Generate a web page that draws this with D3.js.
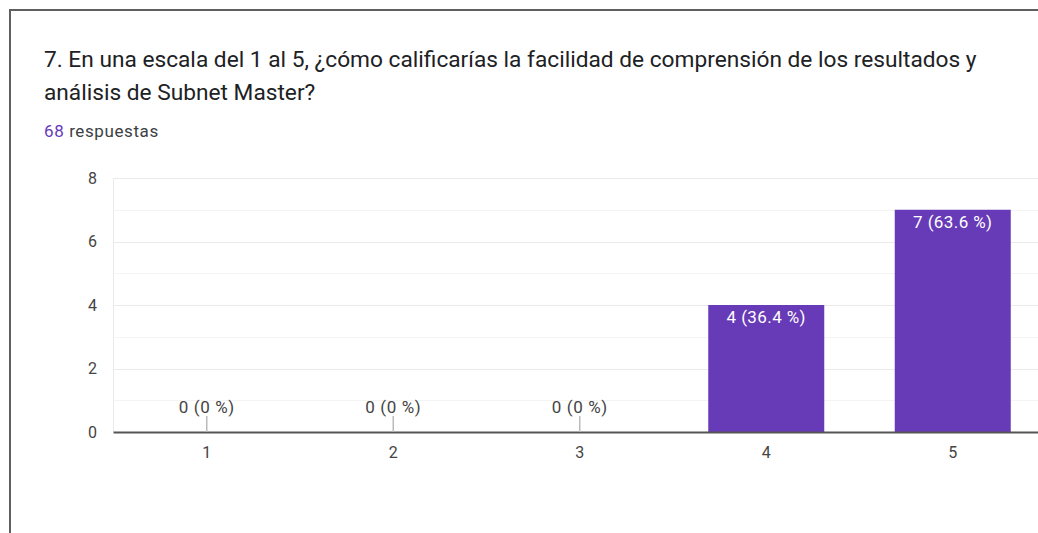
<!DOCTYPE html>
<html>
<head>
<meta charset="utf-8">
<script src="https://cdn.jsdelivr.net/npm/d3@7"></script>
<style>
  html, body { margin: 0; padding: 0; background: #fff; }
  svg { display: block; font-family: Roboto, Arial, sans-serif; }
</style>
</head>
<body>
<svg id="chart" width="1038" height="533"></svg>
<script>
// ---- data ----
const categories = ["1", "2", "3", "4", "5"];
const counts = [0, 0, 0, 4, 7];
const percentLabels = ["0 %", "0 %", "0 %", "36.4 %", "63.6 %"];
const yTicks = [0, 2, 4, 6, 8];
const gridValues = [1, 2, 3, 4, 5, 6, 7, 8];
const titleLines = [
  "7. En una escala del 1 al 5, ¿cómo calificarías la facilidad de comprensión de los resultados y",
  "análisis de Subnet Master?"
];
const responsesCount = "68";
const responsesWord = " respuestas";

// ---- layout ----
const W = 1038, H = 533;
const svg = d3.select("#chart");
const purple = "#673ab7";
const font = "Roboto, Arial, sans-serif";

// outer card border
svg.append("path")
  .attr("d", `M10,${H + 2} L10,10 L${W + 2},10`)
  .attr("fill", "none")
  .attr("stroke", "#5f5f5f")
  .attr("stroke-width", 2);

// title
const title = svg.append("text")
  .attr("x", 44)
  .attr("fill", "#202124")
  .attr("font-size", 22.7);
titleLines.forEach((t, i) => {
  title.append("tspan").attr("x", 44).attr("y", 67 + i * 32.5).text(t);
});

// subtitle
const sub = svg.append("text").attr("x", 44).attr("y", 137)
  .attr("font-size", 17).attr("letter-spacing", 0.6);
sub.append("tspan").attr("fill", purple).text(responsesCount);
sub.append("tspan").attr("fill", "#3c4043").text(responsesWord);

// scales
const x = d3.scaleBand()
  .domain(categories)
  .range([113.5, 1046])
  .paddingInner(0.378)
  .paddingOuter(0.189);
const y = d3.scaleLinear().domain([0, 8]).range([432, 178]);

// gridlines
svg.append("g").selectAll("line")
  .data(gridValues)
  .join("line")
  .attr("x1", 113.5).attr("x2", W)
  .attr("y1", d => Math.round(y(d)) + 0.5)
  .attr("y2", d => Math.round(y(d)) + 0.5)
  .attr("stroke", d => d % 2 === 0 ? "#ebebeb" : "#f4f4f4")
  .attr("stroke-width", 1);

// left plot edge
svg.append("line")
  .attr("x1", 113.5).attr("x2", 113.5)
  .attr("y1", y(8)).attr("y2", y(0))
  .attr("stroke", "#ebebeb");

// y axis labels
const yAxis = d3.axisLeft(y).tickValues(yTicks).tickSize(0).tickPadding(0);
const yg = svg.append("g").attr("transform", "translate(97,0)").call(yAxis);
yg.select(".domain").remove();
yg.selectAll("text").attr("font-size", 16).attr("fill", "#444").attr("font-family", font);

// bars
const data = categories.map((c, i) => ({ c, v: counts[i], p: percentLabels[i] }));
svg.append("g").selectAll("rect")
  .data(data)
  .join("rect")
  .attr("x", d => x(d.c))
  .attr("width", x.bandwidth())
  .attr("y", d => y(d.v))
  .attr("height", d => y(0) - y(d.v))
  .attr("fill", purple);

// x axis
const xAxis = d3.axisBottom(x).tickSize(0).tickPadding(14.5);
const xg = svg.append("g").attr("transform", `translate(0,${y(0)})`).call(xAxis);
xg.select(".domain").remove();
xg.selectAll("text").attr("font-size", 16).attr("fill", "#444").attr("font-family", font);
svg.append("line")
  .attr("x1", 113.5).attr("x2", W)
  .attr("y1", y(0) + 0.5).attr("y2", y(0) + 0.5)
  .attr("stroke", "#555").attr("stroke-width", 2);

// value labels
const lbl = svg.append("g");
data.forEach(d => {
  const cx = x(d.c) + x.bandwidth() / 2;
  const text = `${d.v} (${d.p})`;
  if (d.v > 0) {
    lbl.append("text")
      .attr("x", cx).attr("y", y(d.v) + 18)
      .attr("text-anchor", "middle")
      .attr("font-size", 17).attr("letter-spacing", 0.4).attr("fill", "#fff")
      .text(text);
  } else {
    lbl.append("line")
      .attr("x1", cx).attr("x2", cx)
      .attr("y1", y(0) - 16).attr("y2", y(0))
      .attr("stroke", "#bbb").attr("stroke-width", 1.5);
    lbl.append("text")
      .attr("x", cx).attr("y", y(0) - 19)
      .attr("text-anchor", "middle")
      .attr("font-size", 17).attr("letter-spacing", 0.6).attr("fill", "#444")
      .text(text);
  }
});
</script>
</body>
</html>
